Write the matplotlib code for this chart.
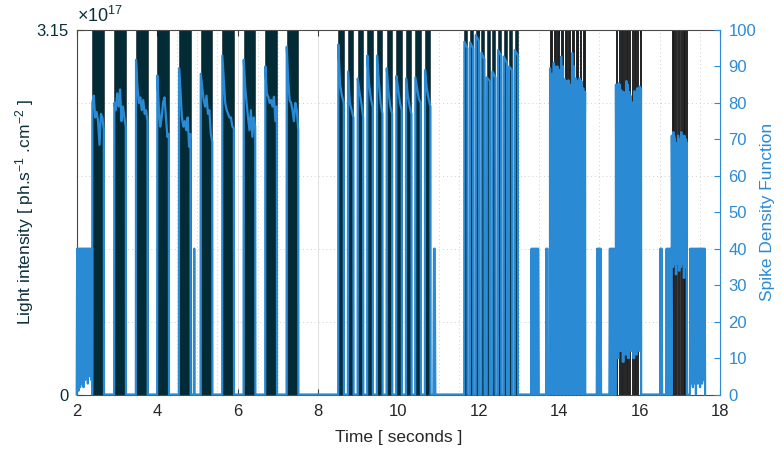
import numpy as np
import matplotlib
matplotlib.use("Agg")
import matplotlib.pyplot as plt
from matplotlib.ticker import MultipleLocator

plt.rcParams['font.family'] = ['Liberation Sans', 'DejaVu Sans']
plt.rcParams['mathtext.fontset'] = 'custom'
plt.rcParams['mathtext.rm'] = 'Liberation Sans'
plt.rcParams['mathtext.it'] = 'Liberation Sans:italic'

# ---------------- data ----------------
light_level = 3.15e17

# light pulse onsets (s) and widths for each stimulation train
g1_on = [2.388, 2.935, 3.475, 4.005, 4.545, 5.085, 5.622, 6.154, 6.692, 7.224]
g1_w = 0.286
g2_on = [8.507, 8.749, 8.990, 9.229, 9.470, 9.711, 9.950, 10.192, 10.423, 10.664]
g2_w = 0.134
g3_on = [11.642, 11.784, 11.925, 12.065, 12.199, 12.338, 12.480, 12.622, 12.754, 12.896]
g3_w = 0.075
g4_on = [13.774, 13.866, 13.957, 14.049, 14.140, 14.232, 14.324, 14.415, 14.507, 14.598]
g4_w = 0.046
g5_on = [15.412, 15.478, 15.543, 15.609, 15.674, 15.740, 15.805, 15.871, 15.936, 16.002]
g5_w = 0.033
g6_on = [16.801, 16.840, 16.880, 16.919, 16.958, 16.998, 17.037, 17.076, 17.115, 17.155]
g6_w = 0.0196

# spike density during each light pulse (values read across the pulse)
g1_sdf = [
    [80, 82, 76, 77.5, 75, 68.5, 77, 76, 72.5],
    [80, 78, 82.6, 79, 83.7, 75, 79, 76, 73.5],
    [91.8, 84.4, 80, 81.5, 78, 80.8, 77, 78, 75],
    [87.5, 79, 73.5, 76, 80, 81.5, 76, 70.7, 71.5],
    [89.5, 83.5, 76, 73.5, 75, 72.5, 76, 68, 71.5],
    [88, 84.4, 80.8, 79, 82, 77, 78, 71.6, 69.3],
    [93, 86.3, 80, 78, 77, 76, 76, 73.5, 73],
    [91.8, 84.4, 80, 76, 72.5, 78, 70.7, 76, 73.5],
    [90, 82.6, 81.7, 80, 80.8, 79, 81.7, 75, 79],
    [95.4, 86.3, 80.8, 80, 78, 75, 80, 78, 72.5],
]
g2_sdf = [
    [96, 85, 82, 80], [88.6, 80, 78, 76], [86.7, 83, 80, 76], [93, 85, 81, 79],
    [93, 86, 80, 77], [89.5, 83, 79, 77], [87.4, 84, 80, 78], [86.7, 82, 79, 77],
    [87, 84, 81, 80], [89, 84, 81, 79],
]
g3_sdf = [
    [96.8, 95], [96.6, 95], [98.6, 97], [93.8, 92], [87, 86],
    [88.6, 87], [94.5, 93], [92.7, 91], [90, 89], [94.5, 93],
]
g4_sdf = [
    [89.5, 25, 88], [91, 30, 90], [90, 20, 89], [92.7, 28, 90], [86.5, 25, 86],
    [86.2, 30, 85], [93.7, 22, 90], [86.7, 28, 86], [86.7, 25, 86], [84, 30, 83],
]
g5_sdf = [
    [85, 30, 84], [85.4, 25, 85], [83.5, 35, 83], [83, 28, 82], [86, 30, 85],
    [83, 26, 82], [80.2, 32, 80], [83.2, 28, 83], [84, 30, 83], [84.5, 27, 84],
]
g5_gap = [10, 12, 9, 11, 10, 12, 10, 11, 12, 0]
g6_sdf = [
    [71, 50, 70], [72, 55, 71], [70, 52, 69], [69, 50, 68], [71, 54, 70],
    [70, 52, 69], [72, 55, 71], [70, 50, 69], [71, 53, 70], [70, 52, 69],
]
g6_gap = [35, 36, 33, 36, 34, 35, 36, 32, 35, 0]

# spontaneous activity before the first train
pre_v = [0, 40, 3, 40, 1, 40, 4, 40, 2, 40, 5, 40, 3, 40, 6, 40, 2, 40, 7, 40,
         4, 40, 5, 40, 6, 40, 3, 40, 7, 40, 5, 40, 6, 40, 4, 40, 40]
pre_span = (2.0, 2.384)

# isolated bursts at 40 (start, end, values)
bursts = [
    (4.915, 4.931, [0, 40, 40, 0]),
    (10.871, 10.92, [0, 40, 40, 0]),
    (13.301, 13.493, [0, 40, 0, 40, 40, 0, 40, 0, 40, 40, 0, 40, 0, 40, 40, 0]),
    (13.674, 13.716, [0, 40, 0, 40, 40, 0]),
    (14.935, 15.042, [0, 40, 0, 40, 40, 0, 40, 0, 40, 0]),
    (15.249, 15.373, [0, 40, 0, 40, 40, 0, 40, 0, 40, 40, 0]),
    (16.51, 16.56, [0, 40, 0, 40, 40, 0]),
    (16.66, 16.79, [0, 40, 0, 40, 40, 0, 40, 0, 40, 40, 0]),
    (17.25, 17.63, [0, 40, 3, 40, 4, 40, 2, 40, 5, 40, 3, 40, 0, 40, 4, 40, 3, 40,
                    5, 40, 2, 40, 4, 40, 3, 40, 5, 40, 4, 40, 0]),
]

x_ticks = [2, 4, 6, 8, 10, 12, 14, 16, 18]
sdf_ticks = [0, 10, 20, 30, 40, 50, 60, 70, 80, 90, 100]

# ---------------- build SDF trace ----------------
def group_trace(onsets, width, shapes, gaps=None):
    if gaps is None:
        gaps = [0] * len(onsets)
    eps = min(0.004, width * 0.15)
    ts, vs = [], []
    for i, (on, shape) in enumerate(zip(onsets, shapes)):
        before = 0 if i == 0 else gaps[i - 1]
        ts.append(on - eps); vs.append(before)
        ts.extend(np.linspace(on, on + width, len(shape))); vs.extend(shape)
        ts.append(on + width + eps); vs.append(gaps[i])
    return ts, vs

segments = [(list(np.linspace(pre_span[0], pre_span[1], len(pre_v))), pre_v)]
segments.append(group_trace(g1_on, g1_w, g1_sdf))
segments.append(group_trace(g2_on, g2_w, g2_sdf))
segments.append(group_trace(g3_on, g3_w, g3_sdf))
segments.append(group_trace(g4_on, g4_w, g4_sdf))
segments.append(group_trace(g5_on, g5_w, g5_sdf, g5_gap))
segments.append(group_trace(g6_on, g6_w, g6_sdf, g6_gap))
for t0, t1, vals in bursts:
    segments.append((list(np.linspace(t0, t1, len(vals))), vals))
segments.sort(key=lambda s: s[0][0])

all_t, all_v = [], []
for ts, vs in segments:
    all_t.extend(ts); all_v.extend(vs)
order = np.argsort(np.array(all_t), kind='stable')
sdf_t = np.array(all_t)[order]
sdf_v = np.array(all_v)[order]

# ---------------- plot ----------------
teal = '#0b2f3c'
bar_face = '#022b36'
blue = '#2b8ad4'
gray_txt = '#262626'

fig = plt.figure(figsize=(7.82, 4.5), dpi=100)
ax1 = fig.add_axes([0.0981, 0.1233, 0.8226, 0.81])

for ons, w in [(g1_on, g1_w), (g2_on, g2_w), (g3_on, g3_w)]:
    ax1.bar(ons, [light_level] * len(ons), width=w, align='edge',
            color=bar_face, edgecolor='#0a1d24', linewidth=0.4, zorder=2)
for ons, w in [(g4_on, g4_w), (g5_on, g5_w), (g6_on, g6_w)]:
    ax1.bar(ons, [light_level] * len(ons), width=w, align='edge',
            color='#1a2023', edgecolor='#151515', linewidth=0.6, zorder=2)

ax1.set_xlim(2, 18)
ax1.set_ylim(0, light_level)
ax1.set_xticks(x_ticks)
ax1.set_xticklabels([str(v) for v in x_ticks])
ax1.set_yticks([0, light_level])
ax1.set_yticklabels(['0', '3.15'])
ax1.xaxis.set_minor_locator(MultipleLocator(0.5))
ax1.yaxis.set_minor_locator(MultipleLocator(light_level / 5))
ax1.set_axisbelow(True)
ax1.grid(which='major', axis='x', color='#dcdcdc', linewidth=0.6, linestyle='-')
ax1.grid(which='minor', color='#cfcfcf', linewidth=0.7, linestyle=(0, (1, 3)))
ax1.tick_params(axis='x', which='major', direction='in', top=True, length=4,
                labelsize=12, colors='#404040', labelcolor=gray_txt, pad=7)
ax1.tick_params(axis='y', which='major', direction='in', length=4,
                labelsize=12, colors=teal, labelcolor=teal, pad=6)
ax1.tick_params(which='minor', length=0)
for side in ['top', 'bottom']:
    ax1.spines[side].set_color('#4a4a4a')
    ax1.spines[side].set_linewidth(0.8)
ax1.spines['left'].set_color('#3a4a50')
ax1.spines['left'].set_linewidth(0.8)
ax1.spines['right'].set_visible(False)
ax1.set_xlabel('Time [ seconds ]', fontsize=12.5, color=gray_txt, labelpad=8)
ax1.set_ylabel('Light intensity [ ph.s$^{-1}$ .cm$^{-2}$ ]', fontsize=12.5,
               color=teal, labelpad=0)
ax1.text(0.0, 1.01, r'$\times$10$^{17}$', transform=ax1.transAxes,
         fontsize=13, color=teal, ha='left', va='bottom')

ax2 = ax1.twinx()
ax2.plot(sdf_t, sdf_v, color=blue, linewidth=1.6, clip_on=False, zorder=3)
ax2.set_ylim(0, 100)
ax2.set_yticks(sdf_ticks)
ax2.tick_params(axis='y', direction='in', length=4, labelsize=12,
                colors=blue, labelcolor=blue, pad=6)
for side in ['top', 'bottom', 'left']:
    ax2.spines[side].set_visible(False)
ax2.spines['right'].set_color(blue)
ax2.spines['right'].set_linewidth(0.8)
ax2.set_ylabel('Spike Density Function', fontsize=12.5, color=blue, labelpad=3)

fig.savefig('out.png', dpi=100)
